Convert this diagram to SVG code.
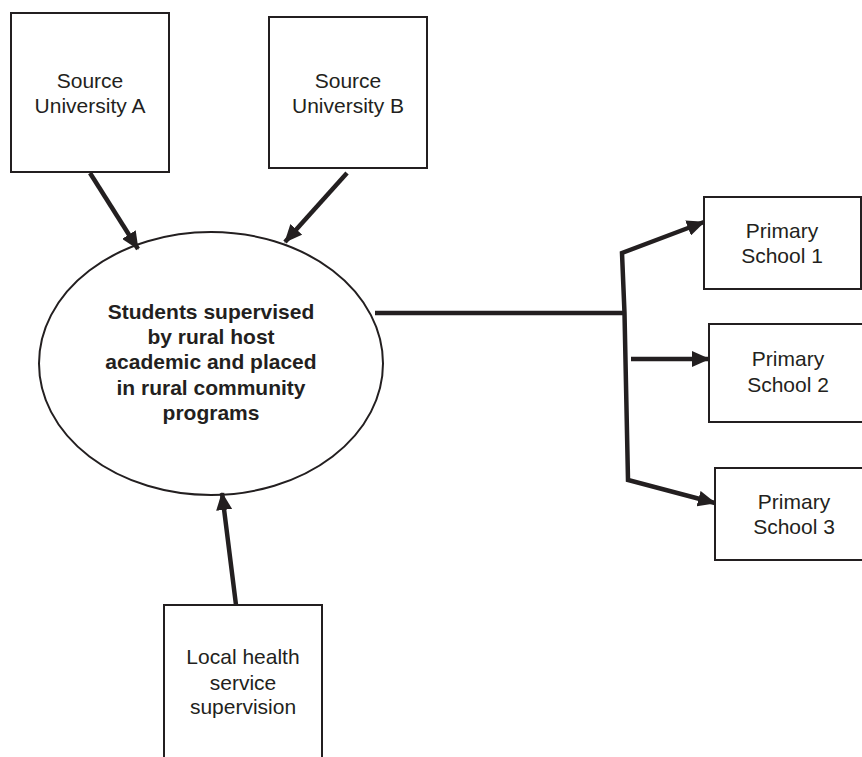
<svg xmlns="http://www.w3.org/2000/svg" width="862" height="757" viewBox="0 0 862 757">
<defs>
<style>
.box{fill:#fff;stroke:#231f20;stroke-width:2}
.t{font-family:"Liberation Sans",Arial,sans-serif;font-size:21px;fill:#231f20;text-anchor:middle}
.b{font-weight:bold}
.c{fill:none;stroke:#231f20;stroke-width:4.5;stroke-linejoin:miter}
</style>
<marker id="ah" markerUnits="userSpaceOnUse" markerWidth="18" markerHeight="16" refX="17" refY="8" orient="auto" viewBox="0 0 18 16">
<path d="M0,0 L18,8 L0,16 z" fill="#231f20"/>
</marker>
</defs>
<rect width="862" height="757" fill="#fff"/>
<g id="uniA">
<rect class="box" x="11" y="13" width="158" height="159"/>
<text class="t" x="90" y="88">Source</text>
<text class="t" x="90" y="113">University A</text>
</g>
<g id="uniB">
<rect class="box" x="269" y="17" width="158" height="151"/>
<text class="t" x="348" y="88">Source</text>
<text class="t" x="348" y="113">University B</text>
</g>
<g id="students">
<ellipse cx="211" cy="363.5" rx="172" ry="131.5" fill="#fff" stroke="#231f20" stroke-width="2"/>
<text class="t b" x="211" y="319">Students supervised</text>
<text class="t b" x="211" y="344">by rural host</text>
<text class="t b" x="211" y="369">academic and placed</text>
<text class="t b" x="211" y="395">in rural community</text>
<text class="t b" x="211" y="420">programs</text>
</g>
<g id="local">
<rect class="box" x="164" y="605" width="158" height="170"/>
<text class="t" x="243" y="664">Local health</text>
<text class="t" x="243" y="690">service</text>
<text class="t" x="243" y="714">supervision</text>
</g>
<g id="school1">
<rect class="box" x="704" y="197" width="157" height="92"/>
<text class="t" x="782" y="238">Primary</text>
<text class="t" x="782" y="263">School 1</text>
</g>
<g id="school2">
<rect class="box" x="709" y="324" width="160" height="98"/>
<text class="t" x="788" y="366">Primary</text>
<text class="t" x="788" y="392">School 2</text>
</g>
<g id="school3">
<rect class="box" x="715" y="468" width="160" height="92"/>
<text class="t" x="794" y="509">Primary</text>
<text class="t" x="794" y="534">School 3</text>
</g>
<g id="connectors">
<line class="c" x1="90" y1="173" x2="138" y2="249" marker-end="url(#ah)"/>
<line class="c" x1="347" y1="173" x2="285" y2="242" marker-end="url(#ah)"/>
<line class="c" x1="236" y1="605" x2="222" y2="493" marker-end="url(#ah)"/>
<line class="c" x1="375" y1="313" x2="623" y2="313" stroke-width="4"/>
<polyline class="c" points="624.5,313 622,253 704,222" marker-end="url(#ah)"/>
<polyline class="c" points="624.5,313 628,480 715,503" marker-end="url(#ah)"/>
<line class="c" x1="631" y1="359" x2="709" y2="359" marker-end="url(#ah)"/>
</g>
</svg>
